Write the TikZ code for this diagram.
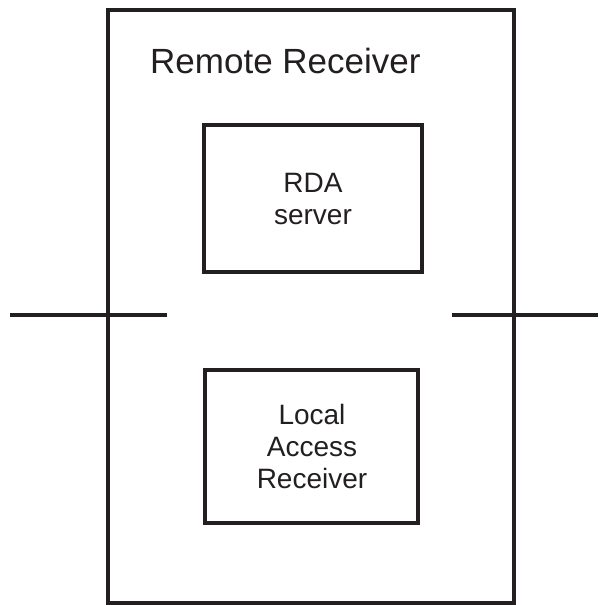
\documentclass[tikz,border=0pt]{standalone}
\usepackage{fontspec}
\setmainfont{Liberation Sans}
\definecolor{ink}{HTML}{231F20}
\begin{document}
\begin{tikzpicture}[x=1pt,y=-1pt,
  wire/.style={draw=ink,line width=4pt},
  unit/.style={draw=ink,line width=4pt,inner sep=0pt},
  lbl/.style={text=ink,align=center,font=\fontsize{28}{32}\selectfont}]
  \useasboundingbox (0,0) rectangle (598,605);
  % enclosing receiver
  \draw[wire] (108,10) rectangle (514,603);
  \node[text=ink,anchor=base west,font=\fontsize{35}{40}\selectfont,inner sep=0pt] (title) at (150,73) {Remote Receiver};
  % inner units
  \draw[unit] (204,125) rectangle (422,272);
  \coordinate (rdac) at (313,199);
  \node[lbl] (rda) at (rdac) {RDA\\server};
  \draw[unit] (205,370) rectangle (418,523);
  \coordinate (larc) at (312,446);
  \node[lbl] (lar) at (larc) {Local\\Access\\Receiver};
  % external link crossing the enclosure
  \coordinate (la) at (10,315);
  \coordinate (lb) at (167,315);
  \coordinate (ra) at (452,315);
  \coordinate (rb) at (598,315);
  \draw[wire] (la) -- (lb);
  \draw[wire] (ra) -- (rb);
\end{tikzpicture}
\end{document}
